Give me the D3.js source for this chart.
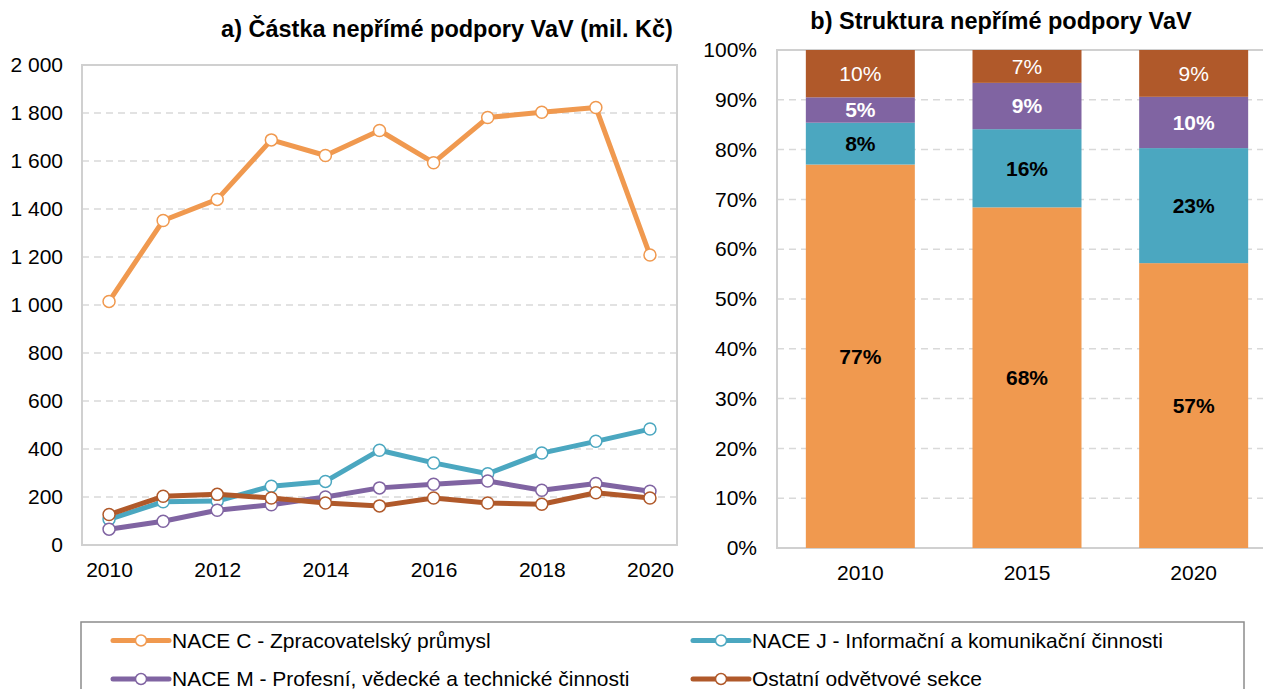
<!DOCTYPE html>
<html>
<head>
<meta charset="utf-8">
<script src="https://cdn.jsdelivr.net/npm/d3@7"></script>
<style>
  body { margin: 0; background: #fff; }
  svg { font-family: "Liberation Sans", Arial, sans-serif; display: block; }
</style>
</head>
<body>
<script>
// data
const years = [2010, 2011, 2012, 2013, 2014, 2015, 2016, 2017, 2018, 2019, 2020];
const naceC = [1015, 1352, 1440, 1688, 1623, 1727, 1593, 1781, 1803, 1823, 1208];
const naceJ = [107, 180, 183, 245, 265, 395, 342, 297, 383, 432, 483];
const naceM = [66, 99, 145, 168, 200, 238, 253, 267, 228, 256, 224];
const ostatni = [127, 203, 211, 196, 175, 163, 196, 175, 170, 218, 196];
const seriesNames = [
  "NACE C - Zpracovatelský průmysl",
  "NACE J - Informační a komunikační činnosti",
  "NACE M - Profesní, vědecké a technické činnosti",
  "Ostatní odvětvové sekce"
];
const colors = ["#F0994F", "#4BA7C0", "#8064A2", "#B0592A"];

const barYears = ["2010", "2015", "2020"];
const shareC = [77.0, 68.4, 57.2];
const shareJ = [8.4, 15.7, 23.1];
const shareM = [5.1, 9.3, 10.3];
const shareO = [9.5, 6.6, 9.4];

const yTicksA = [0, 200, 400, 600, 800, 1000, 1200, 1400, 1600, 1800, 2000];
const yTicksB = [0, 10, 20, 30, 40, 50, 60, 70, 80, 90, 100];

const W = 1263, H = 689;
const svg = d3.select("body").append("svg").attr("width", W).attr("height", H);

const fmt = d3.formatLocale({decimal: ",", thousands: " ", grouping: [3], currency: ["", ""]}).format(",");
const gridColor = "#d9d9d9";
const frameColor = "#d0d0d0";
const tickFont = 21;
const titleFont = 23.5;

// ---------- a) line chart ----------
const a = {left: 82, right: 677, top: 65, bottom: 545};
const xA = d3.scalePoint().domain(years).range([a.left, a.right]).padding(0.5);
const yA = d3.scaleLinear().domain([0, 2000]).range([a.bottom, a.top]);

svg.append("text")
  .attr("x", 447).attr("y", 37)
  .attr("text-anchor", "middle")
  .attr("font-size", titleFont).attr("font-weight", "bold")
  .text("a) Částka nepřímé podpory VaV (mil. Kč)");

// gridlines
svg.append("g")
  .selectAll("line")
  .data(yTicksA.filter(d => d > 0 && d < 2000))
  .join("line")
  .attr("x1", a.left).attr("x2", a.right)
  .attr("y1", d => yA(d)).attr("y2", d => yA(d))
  .attr("stroke", gridColor).attr("stroke-width", 1.5).attr("stroke-dasharray", "7,5");

// frame
svg.append("rect")
  .attr("x", a.left).attr("y", a.top)
  .attr("width", a.right - a.left).attr("height", a.bottom - a.top)
  .attr("fill", "none").attr("stroke", frameColor).attr("stroke-width", 2);

// y labels
const yAxisA = svg.append("g")
  .attr("transform", `translate(${a.left},0)`)
  .call(d3.axisLeft(yA).tickValues(yTicksA).tickFormat(fmt).tickSize(0).tickPadding(19));
yAxisA.select(".domain").remove();
yAxisA.selectAll("text").attr("font-size", tickFont).attr("fill", "#000").attr("font-family", null);

// x labels
const xAxisA = svg.append("g")
  .attr("transform", `translate(0,${a.bottom})`)
  .call(d3.axisBottom(xA).tickValues(years.filter(d => d % 2 === 0)).tickSize(0).tickPadding(17));
xAxisA.select(".domain").remove();
xAxisA.selectAll("text").attr("font-size", tickFont).attr("fill", "#000").attr("font-family", null);

const lineSeries = [naceC, naceJ, naceM, ostatni];
const line = d3.line().x((d, i) => xA(years[i])).y(d => yA(d));

lineSeries.forEach((vals, k) => {
  const g = svg.append("g");
  g.append("path")
    .datum(vals)
    .attr("d", line)
    .attr("fill", "none")
    .attr("stroke", colors[k])
    .attr("stroke-width", 5)
    .attr("stroke-linejoin", "round");
  g.selectAll("circle")
    .data(vals)
    .join("circle")
    .attr("cx", (d, i) => xA(years[i]))
    .attr("cy", d => yA(d))
    .attr("r", 6)
    .attr("fill", "#fff")
    .attr("stroke", colors[k])
    .attr("stroke-width", 1.5);
});

// ---------- b) stacked 100% bars ----------
const b = {left: 777, right: 1277, top: 50, bottom: 548};
const xB = d3.scaleBand().domain(barYears).range([b.left, b.right]).paddingInner(0.346).paddingOuter(0.173);
const yB = d3.scaleLinear().domain([0, 100]).range([b.bottom, b.top]);

svg.append("text")
  .attr("x", 1001).attr("y", 29)
  .attr("text-anchor", "middle")
  .attr("font-size", titleFont).attr("font-weight", "bold")
  .text("b) Struktura nepřímé podpory VaV");

svg.append("g")
  .selectAll("line")
  .data(yTicksB.filter(d => d > 0 && d < 100))
  .join("line")
  .attr("x1", b.left).attr("x2", b.right)
  .attr("y1", d => yB(d)).attr("y2", d => yB(d))
  .attr("stroke", gridColor).attr("stroke-width", 1.5).attr("stroke-dasharray", "7,5");

svg.append("rect")
  .attr("x", b.left).attr("y", b.top)
  .attr("width", b.right - b.left).attr("height", b.bottom - b.top)
  .attr("fill", "none").attr("stroke", frameColor).attr("stroke-width", 2);

const yAxisB = svg.append("g")
  .attr("transform", `translate(${b.left},0)`)
  .call(d3.axisLeft(yB).tickValues(yTicksB).tickFormat(d => d + "%").tickSize(0).tickPadding(20));
yAxisB.select(".domain").remove();
yAxisB.selectAll("text").attr("font-size", tickFont).attr("fill", "#000").attr("font-family", null);

const xAxisB = svg.append("g")
  .attr("transform", `translate(0,${b.bottom})`)
  .call(d3.axisBottom(xB).tickSize(0).tickPadding(17));
xAxisB.select(".domain").remove();
xAxisB.selectAll("text").attr("font-size", tickFont).attr("fill", "#000").attr("font-family", null);

const keys = ["C", "J", "M", "O"];
const barRows = barYears.map((y, i) => ({year: y, C: shareC[i], J: shareJ[i], M: shareM[i], O: shareO[i]}));
const stacked = d3.stack().keys(keys)(barRows);
const labelFill = ["#000", "#000", "#fff", "#fff"];
const labelWeight = ["bold", "bold", "bold", "normal"];

stacked.forEach((layer, k) => {
  const g = svg.append("g");
  g.selectAll("rect")
    .data(layer)
    .join("rect")
    .attr("x", d => xB(d.data.year))
    .attr("width", xB.bandwidth())
    .attr("y", d => yB(d[1]))
    .attr("height", d => yB(d[0]) - yB(d[1]))
    .attr("fill", colors[k]);
  g.selectAll("text")
    .data(layer)
    .join("text")
    .attr("x", d => xB(d.data.year) + xB.bandwidth() / 2)
    .attr("y", d => (yB(d[0]) + yB(d[1])) / 2)
    .attr("dy", "0.35em")
    .attr("text-anchor", "middle")
    .attr("font-size", tickFont)
    .attr("font-weight", labelWeight[k])
    .attr("fill", labelFill[k])
    .text(d => Math.round(d[1] - d[0]) + "%");
});

// ---------- legend ----------
const leg = {left: 81, top: 622, right: 1244};
svg.append("rect")
  .attr("x", leg.left).attr("y", leg.top)
  .attr("width", leg.right - leg.left).attr("height", 90)
  .attr("fill", "#fff").attr("stroke", "#8c8c8c").attr("stroke-width", 1.5);

const legPos = [[113, 640.5], [693, 640.5], [113, 679], [693, 679]];
seriesNames.forEach((name, k) => {
  const [lx, ly] = legPos[k];
  const g = svg.append("g");
  g.append("line")
    .attr("x1", lx).attr("x2", lx + 56)
    .attr("y1", ly).attr("y2", ly)
    .attr("stroke", colors[k]).attr("stroke-width", 5).attr("stroke-linecap", "round");
  g.append("circle")
    .attr("cx", lx + 28).attr("cy", ly).attr("r", 5.5)
    .attr("fill", "#fff").attr("stroke", colors[k]).attr("stroke-width", 1.5);
  g.append("text")
    .attr("x", lx + 59).attr("y", ly)
    .attr("dy", "0.35em")
    .attr("font-size", 21)
    .text(name);
});
</script>
</body>
</html>
